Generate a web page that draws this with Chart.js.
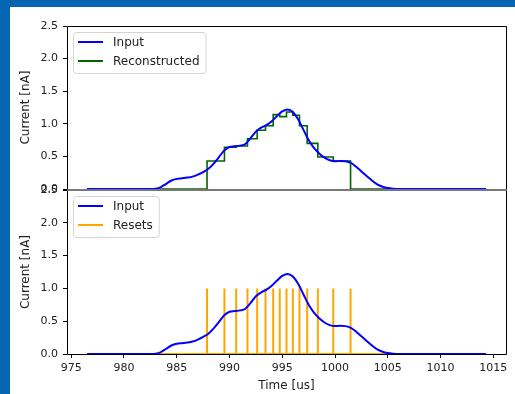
<!DOCTYPE html>
<html>
<head>
<meta charset="utf-8">
<script src="https://cdn.jsdelivr.net/npm/chart.js@4"></script>
<style>
  html, body { margin: 0; padding: 0; background: #0466b2; overflow: hidden; }
  #frame { position: absolute; left: 10px; top: 7px; width: 505px; height: 387px; background: #fff; }
  .wrap { position: absolute; left: 0; top: 0; width: 515px; height: 394px; }
</style>
</head>
<body>
<div id="frame"></div>
<div class="wrap"><canvas id="topChart"></canvas></div>
<div class="wrap"><canvas id="bottomChart"></canvas></div>
<script>
// input current pulse [nA] sampled over time [us]
const inputTime = [976.5, 982.5, 983.0, 983.5, 984.0, 984.5, 985.0, 985.5, 986.0, 986.5,
  987.0, 987.5, 988.0, 988.5, 989.0, 989.5, 990.0, 990.5, 991.0, 991.5,
  992.0, 992.5, 993.0, 993.5, 994.0, 994.5, 995.0, 995.5, 996.0, 996.5,
  997.0, 997.5, 998.0, 998.5, 999.0, 999.5, 1000.0, 1000.5, 1001.0, 1001.5,
  1002.0, 1002.5, 1003.0, 1003.5, 1004.0, 1004.5, 1005.0, 1005.5, 1006.0, 1014.3];
const inputCurrent = [0, 0, 0.005, 0.03, 0.08, 0.13, 0.155, 0.165, 0.175, 0.19,
  0.22, 0.26, 0.31, 0.39, 0.49, 0.59, 0.645, 0.655, 0.665, 0.69,
  0.78, 0.88, 0.94, 0.98, 1.04, 1.12, 1.19, 1.22, 1.18, 1.07,
  0.91, 0.75, 0.63, 0.545, 0.48, 0.44, 0.425, 0.43, 0.425, 0.40,
  0.34, 0.27, 0.20, 0.13, 0.07, 0.035, 0.015, 0.005, 0, 0];

// integrator reset instants [us]
const resetTimes = [987.87, 989.52, 990.63, 991.70, 992.62, 993.41, 994.14, 994.76,
  995.40, 996.00, 996.63, 997.36, 998.37, 999.83, 1001.47];
// reconstructed current held between consecutive resets [nA]
const reconstructedLevels = [0.43, 0.64, 0.66, 0.77, 0.90, 0.97, 1.14, 1.11,
  1.18, 1.13, 0.97, 0.70, 0.49, 0.43];
const resetHeight = 1.0;

const xTicks = [975, 980, 985, 990, 995, 1000, 1005, 1010, 1015];
const yTicks = [0, 0.5, 1.0, 1.5, 2.0, 2.5];

const tStart = inputTime[0];
const tEnd = inputTime[inputTime.length - 1];

const inputPoints = inputTime.map((t, i) => ({ x: t, y: inputCurrent[i] }));

const reconstructedPoints = [{ x: tStart, y: 0 }];
resetTimes.forEach((t, i) => {
  reconstructedPoints.push({ x: t, y: i < reconstructedLevels.length ? reconstructedLevels[i] : 0 });
});
reconstructedPoints.push({ x: tEnd, y: 0 });

const resetPoints = [{ x: tStart, y: 0 }];
resetTimes.forEach(t => {
  resetPoints.push({ x: t, y: 0 }, { x: t, y: resetHeight }, { x: t, y: 0 });
});
resetPoints.push({ x: tEnd, y: 0 });

const FAMILY = '"DejaVu Sans", sans-serif';
const TICK_FONT = { family: FAMILY, size: 11 };
const LABEL_FONT = { family: FAMILY, size: 12 };
const TEXT = '#222';

// box around the plotting area, like matplotlib spines;
// the edge shared by the two panels is drawn lighter
function spines(sharedEdge) {
  return {
    id: 'spines',
    afterDatasetsDraw(chart) {
      const { ctx, chartArea: a } = chart;
      const l = Math.round(a.left) + 0.5, r = Math.round(a.right) + 0.5;
      const t = Math.round(a.top) + 0.5, b = Math.round(a.bottom) + 0.5;
      const edges = {
        top: [l, t, r, t], bottom: [l, b, r, b], left: [l, t, l, b], right: [r, t, r, b]
      };
      ctx.save();
      ctx.lineWidth = 1;
      Object.entries(edges).forEach(([name, [x1, y1, x2, y2]]) => {
        ctx.strokeStyle = name === sharedEdge ? '#777' : '#000';
        ctx.beginPath();
        ctx.moveTo(x1, y1);
        ctx.lineTo(x2, y2);
        ctx.stroke();
      });
      ctx.restore();
    }
  };
}

// legend drawn inside the upper-left corner of the axes
function insetLegend(entries) {
  return {
    id: 'insetLegend',
    afterDraw(chart) {
      const { ctx, chartArea: a } = chart;
      ctx.save();
      ctx.font = LABEL_FONT.size + 'px ' + FAMILY;
      const tw = Math.max(...entries.map(e => ctx.measureText(e.label).width));
      const x = a.left + 6, y = a.top + 6, w = 40 + tw + 6, h = 41;
      ctx.fillStyle = 'rgba(255,255,255,0.8)';
      ctx.strokeStyle = '#d4d4d4';
      ctx.lineWidth = 1;
      ctx.beginPath();
      ctx.roundRect(x + 0.5, y + 0.5, w, h, 3);
      ctx.fill();
      ctx.stroke();
      ctx.textBaseline = 'middle';
      entries.forEach((e, i) => {
        const cy = y + 10 + i * 19;
        ctx.strokeStyle = e.color;
        ctx.lineWidth = 2;
        ctx.beginPath();
        ctx.moveTo(x + 5, cy);
        ctx.lineTo(x + 30, cy);
        ctx.stroke();
        ctx.fillStyle = TEXT;
        ctx.fillText(e.label, x + 40, cy + 1);
      });
      ctx.restore();
    }
  };
}

function yScale() {
  return {
    min: 0,
    max: 2.5,
    afterFit: s => { s.width = 57; },
    afterBuildTicks: s => { s.ticks = yTicks.map(v => ({ value: v })); },
    ticks: { font: TICK_FONT, color: TEXT, padding: 5, callback: v => v.toFixed(1) },
    grid: { drawOnChartArea: false, drawTicks: true, tickLength: 4, color: '#000' },
    border: { display: false },
    title: { display: true, text: 'Current [nA]', font: LABEL_FONT, color: TEXT, padding: { top: 9, bottom: 0 } }
  };
}

function xScale(show) {
  return {
    type: 'linear',
    min: 974.6,
    max: 1016.2,
    display: show,
    afterFit: s => { s.height = show ? 40 : 0; },
    afterBuildTicks: s => { s.ticks = xTicks.map(v => ({ value: v })); },
    ticks: { font: TICK_FONT, color: TEXT, padding: 4, maxRotation: 0, callback: v => String(v) },
    grid: { drawOnChartArea: false, drawTicks: true, tickLength: 4, color: '#000' },
    border: { display: false },
    title: { display: true, text: 'Time [us]', font: LABEL_FONT, color: TEXT, padding: { top: 0, bottom: 1 } }
  };
}

const common = {
  responsive: true,
  maintainAspectRatio: false,
  animation: false,
  plugins: { legend: { display: false }, tooltip: { enabled: false } },
  elements: { point: { radius: 0 } }
};

new Chart(document.getElementById('topChart'), {
  type: 'line',
  data: {
    datasets: [
      { label: 'Input', data: inputPoints, borderColor: '#0000ff', borderWidth: 2,
        cubicInterpolationMode: 'monotone' },
      { label: 'Reconstructed', data: reconstructedPoints, borderColor: '#006400', borderWidth: 1.6,
        stepped: 'before' }
    ]
  },
  options: {
    ...common,
    layout: { padding: { left: 10, top: 26, right: 9, bottom: 205 } },
    scales: { x: xScale(false), y: yScale() }
  },
  plugins: [spines('bottom'), insetLegend([
    { label: 'Input', color: '#0000ff' },
    { label: 'Reconstructed', color: '#006400' }
  ])]
});

new Chart(document.getElementById('bottomChart'), {
  type: 'line',
  data: {
    datasets: [
      { label: 'Input', data: inputPoints, borderColor: '#0000ff', borderWidth: 2,
        cubicInterpolationMode: 'monotone' },
      { label: 'Resets', data: resetPoints, borderColor: '#ffa500', borderWidth: 2 }
    ]
  },
  options: {
    ...common,
    layout: { padding: { left: 10, top: 190, right: 9, bottom: 0 } },
    scales: { x: xScale(true), y: yScale() }
  },
  plugins: [spines('top'), insetLegend([
    { label: 'Input', color: '#0000ff' },
    { label: 'Resets', color: '#ffa500' }
  ])]
});
</script>
</body>
</html>
